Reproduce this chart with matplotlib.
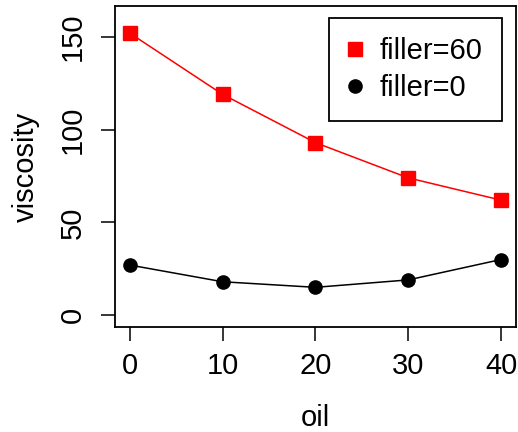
import matplotlib
matplotlib.use("Agg")
import matplotlib.pyplot as plt
from matplotlib.lines import Line2D

plt.rcParams.update({
    "font.family": ["Liberation Sans", "DejaVu Sans"],
    "font.size": 21,
})

oil = [0, 10, 20, 30, 40]
visc_filler60 = [152, 119, 93, 74, 62]
visc_filler0 = [27, 18, 15, 19, 30]
xticks = [0, 10, 20, 30, 40]
yticks = [0, 50, 100, 150]
labels = ["filler=60", "filler=0"]

fig = plt.figure(figsize=(5.18, 4.32), dpi=100)
ax = fig.add_axes([0.222, 0.243, 0.774, 0.742])

ax.plot(oil, visc_filler60, color="red", lw=1.1, marker="s", ms=10,
        mec="red", mfc="red")
ax.plot(oil, visc_filler0, color="black", lw=1.1, marker="o", ms=9.5,
        mec="black", mfc="black")

# R style axis ranges: 4% padding
ax.set_xlim(-1.6, 41.6)
ax.set_ylim(-6.4, 166.4)
ax.set_xticks(xticks)
ax.set_yticks(yticks)
ax.set_yticklabels([str(v) for v in yticks], rotation=90, va="center")
ax.tick_params(direction="out", length=10, width=1.1, color="black",
               labelsize=21, pad=10)
ax.tick_params(axis="x", pad=8)
for s in ax.spines.values():
    s.set_linewidth(1.3)

ax.set_xlabel("oil", fontsize=21, labelpad=17)
ax.set_ylabel("viscosity", fontsize=21, labelpad=14)

handles = [
    Line2D([], [], color="red", marker="s", ms=10, ls="none"),
    Line2D([], [], color="black", marker="o", ms=9.5, ls="none"),
]
leg = ax.legend(handles, labels, loc="upper right",
                bbox_to_anchor=(0.965, 0.964), borderaxespad=0,
                fancybox=False, edgecolor="black", framealpha=1,
                borderpad=0.65, handlelength=0.5, handletextpad=0.6,
                labelspacing=0.32, fontsize=21)
leg.get_frame().set_linewidth(1.3)

fig.savefig("out.png", dpi=100)
